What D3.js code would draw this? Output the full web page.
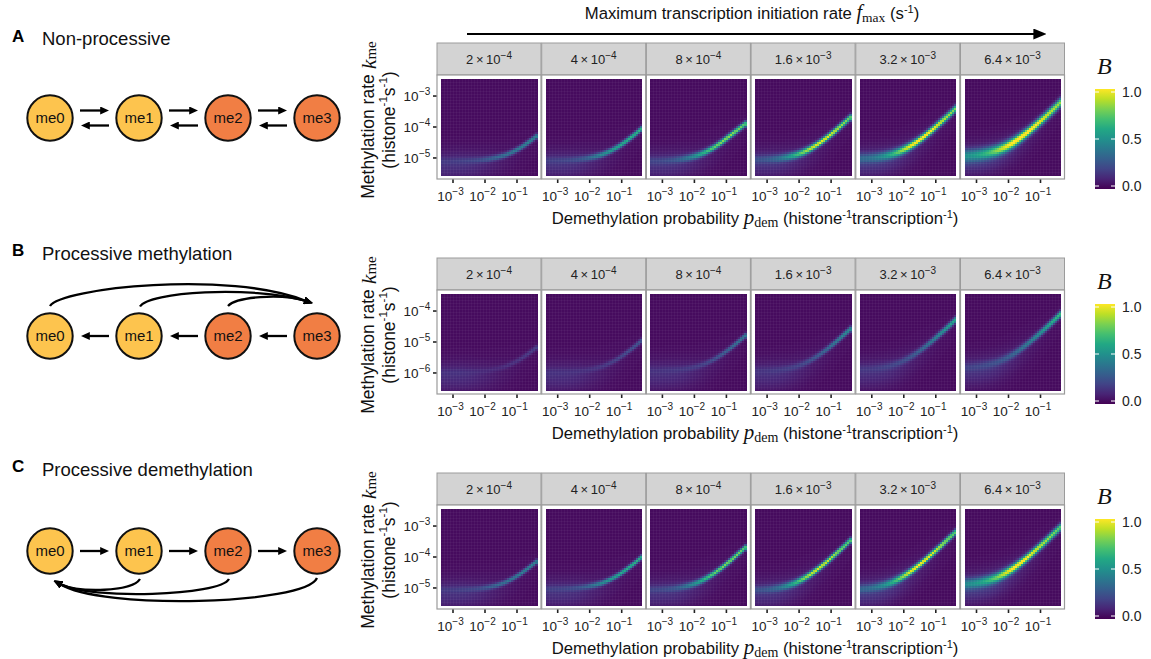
<!DOCTYPE html>
<html><head><meta charset="utf-8">
<script src="https://cdn.jsdelivr.net/npm/d3@7"></script>
<style>
body{margin:0;background:#fff}
svg{display:block;font-family:"Liberation Sans",Arial,Helvetica,sans-serif}
</style>
</head><body>
<svg id="c" width="1151" height="659"></svg>
<script>
// ---------------- DATA ----------------
const fmaxMant = ["2","4","8","1.6","3.2","6.4"];
const fmaxExp  = ["−4","−4","−4","−3","−3","−3"];
const pdemTicks = [-3,-2,-1];
const kmeTicksA = [-5,-4,-3];
const kmeTicksB = [-6,-5,-4];
const kmeTicksC = [-5,-4,-3];
const pdemDomain = [-3.375,-0.375];
const kmeDomainA = [-5.55,-2.45];
const kmeDomainB = [-6.55,-3.45];
const kmeDomainC = [-5.55,-2.45];
const pdemSamples = [-3.375,-3.125,-2.875,-2.625,-2.375,-2.125,-1.875,-1.625,-1.375,-1.125,-0.875,-0.625,-0.375];

// ridge centre (log10 k_me) per f_max panel
const ridgeA = [
 [-5.07,-5.07,-5.06,-5.06,-5.05,-5.03,-5.00,-4.95,-4.88,-4.77,-4.63,-4.45,-4.25],
 [-5.05,-5.04,-5.04,-5.03,-5.01,-4.98,-4.93,-4.86,-4.75,-4.61,-4.43,-4.23,-4.01],
 [-5.06,-5.06,-5.05,-5.03,-5.00,-4.95,-4.88,-4.77,-4.63,-4.45,-4.25,-4.05,-3.85],
 [-5.02,-5.01,-5.00,-4.98,-4.94,-4.88,-4.79,-4.66,-4.50,-4.31,-4.10,-3.87,-3.64],
 [-4.98,-4.97,-4.95,-4.91,-4.85,-4.76,-4.63,-4.47,-4.28,-4.07,-3.84,-3.61,-3.36],
 [-4.90,-4.88,-4.85,-4.80,-4.73,-4.62,-4.48,-4.30,-4.10,-3.88,-3.65,-3.41,-3.16]];
const peakA = [
 [0.05,0.05,0.06,0.08,0.10,0.14,0.20,0.26,0.30,0.34,0.37,0.40,0.40],
 [0.06,0.07,0.08,0.10,0.14,0.20,0.30,0.40,0.47,0.53,0.58,0.60,0.60],
 [0.08,0.09,0.11,0.15,0.22,0.33,0.47,0.60,0.70,0.77,0.80,0.76,0.70],
 [0.12,0.14,0.18,0.25,0.38,0.55,0.72,0.85,0.92,0.92,0.88,0.80,0.72],
 [0.20,0.22,0.28,0.38,0.52,0.70,0.87,0.96,0.98,0.96,0.90,0.82,0.75],
 [0.35,0.38,0.45,0.55,0.70,0.85,0.96,1.00,0.99,0.96,0.90,0.85,0.80]];
const widthA = [0.06,0.06,0.065,0.07,0.08,0.10];
const hazeA  = [0.10,0.10,0.10,0.10,0.12,0.14];

const ridgeB = [
 [-5.95,-5.95,-5.94,-5.94,-5.93,-5.91,-5.88,-5.83,-5.76,-5.65,-5.51,-5.33,-5.13],
 [-5.95,-5.94,-5.94,-5.93,-5.91,-5.88,-5.83,-5.76,-5.65,-5.51,-5.33,-5.13,-4.91],
 [-5.89,-5.89,-5.88,-5.87,-5.85,-5.81,-5.75,-5.66,-5.53,-5.37,-5.18,-4.97,-4.74],
 [-5.91,-5.90,-5.89,-5.87,-5.83,-5.77,-5.68,-5.55,-5.39,-5.20,-4.99,-4.76,-4.53],
 [-5.85,-5.84,-5.82,-5.78,-5.72,-5.63,-5.50,-5.34,-5.15,-4.94,-4.71,-4.48,-4.23],
 [-5.79,-5.77,-5.74,-5.69,-5.62,-5.51,-5.37,-5.19,-4.99,-4.77,-4.54,-4.30,-4.05]];
const peakB = [
 [0.03,0.03,0.03,0.03,0.03,0.03,0.04,0.05,0.07,0.09,0.11,0.13,0.15],
 [0.03,0.03,0.03,0.03,0.04,0.05,0.07,0.09,0.12,0.15,0.18,0.21,0.23],
 [0.03,0.03,0.04,0.05,0.06,0.08,0.10,0.14,0.18,0.23,0.28,0.33,0.37],
 [0.04,0.04,0.05,0.06,0.08,0.10,0.13,0.18,0.23,0.29,0.35,0.41,0.45],
 [0.05,0.05,0.06,0.08,0.10,0.13,0.17,0.22,0.28,0.35,0.42,0.50,0.57],
 [0.07,0.08,0.09,0.11,0.14,0.18,0.23,0.29,0.35,0.42,0.50,0.58,0.66]];
const widthB = [0.06,0.06,0.06,0.065,0.07,0.075];
const hazeB  = [0.09,0.09,0.09,0.09,0.09,0.10];

const ridgeC = [
 [-5.03,-5.02,-5.02,-5.01,-5.00,-4.98,-4.94,-4.88,-4.79,-4.66,-4.50,-4.31,-4.10],
 [-5.00,-4.99,-4.99,-4.98,-4.96,-4.93,-4.88,-4.81,-4.70,-4.56,-4.38,-4.18,-3.96],
 [-5.02,-5.01,-5.00,-4.98,-4.94,-4.88,-4.79,-4.66,-4.50,-4.31,-4.10,-3.87,-3.64],
 [-5.03,-5.02,-5.00,-4.96,-4.90,-4.81,-4.68,-4.52,-4.33,-4.12,-3.89,-3.66,-3.41],
 [-5.00,-4.98,-4.94,-4.88,-4.79,-4.66,-4.50,-4.31,-4.10,-3.87,-3.64,-3.39,-3.15],
 [-4.84,-4.82,-4.78,-4.72,-4.63,-4.50,-4.34,-4.15,-3.94,-3.71,-3.48,-3.23,-2.99]];
const peakC = [
 [0.05,0.05,0.06,0.08,0.10,0.14,0.20,0.26,0.30,0.34,0.37,0.40,0.40],
 [0.06,0.07,0.08,0.10,0.14,0.20,0.30,0.40,0.47,0.53,0.57,0.60,0.58],
 [0.08,0.09,0.11,0.15,0.22,0.33,0.47,0.60,0.70,0.75,0.78,0.75,0.70],
 [0.12,0.14,0.18,0.25,0.38,0.55,0.72,0.85,0.90,0.88,0.82,0.75,0.68],
 [0.18,0.20,0.26,0.36,0.50,0.68,0.85,0.94,0.95,0.91,0.85,0.78,0.70],
 [0.32,0.35,0.42,0.52,0.66,0.82,0.93,0.96,0.93,0.88,0.82,0.76,0.70]];
const widthC = [0.055,0.055,0.06,0.065,0.07,0.085];
const hazeC  = [0.10,0.10,0.10,0.10,0.12,0.14];

// how the ridge broadens / hazes at low p_dem (per sample column)
const spreadProfile = [1.4,1.35,1.3,1.25,1.2,1.15,1.1,1.05,1.0,1.0,1.0,1.0,1.0];
const hazeProfile   = [1.0,1.0,1.0,0.95,0.85,0.7,0.55,0.4,0.28,0.18,0.1,0.05,0.03];
const backgroundB = 0.03;

const legendTicks = [0,0.5,1];
const states = ["me0","me1","me2","me3"];
const rowLetters = ["A","B","C"];
const rowTitles = ["Non-processive","Processive methylation","Processive demethylation"];

// ---------------- DRAW ----------------
const svg = d3.select("#c");
svg.append("rect").attr("width",1151).attr("height",659).attr("fill","#fff");
const defs = svg.append("defs");
function marker(id,w,h){
  defs.append("marker").attr("id",id).attr("viewBox","0 0 10 10").attr("refX",2).attr("refY",5)
   .attr("markerWidth",w).attr("markerHeight",h).attr("markerUnits","userSpaceOnUse")
   .attr("orient","auto").attr("preserveAspectRatio","none")
   .append("path").attr("d","M0,0L10,5L0,10z").attr("fill","#000");
}
marker("ah",9,8);
marker("ahBig",13,11);

const SERIF = "'Liberation Serif','DejaVu Serif',serif";
function rich(sel, parts){
  parts.forEach(p=>{
    const ts = sel.append("tspan").text(p.t);
    if(p.f) ts.style("font-family",p.f);
    if(p.i) ts.style("font-style","italic");
    if(p.s) ts.attr("font-size",p.s);
    if(p.dy) ts.attr("dy",p.dy);
  });
}

const color = d3.scaleSequential(d3.interpolateViridis).domain([0,1]);
function interp(arr,t){
  const i = Math.min(arr.length-2, Math.max(0, Math.floor(t)));
  const f = t - i;
  return arr[i]*(1-f) + arr[i+1]*f;
}

const rows = [
  {top:43,  dom:kmeDomainA, ticks:kmeTicksA, ridge:ridgeA, peak:peakA, width:widthA, haze:hazeA},
  {top:258, dom:kmeDomainB, ticks:kmeTicksB, ridge:ridgeB, peak:peakB, width:widthB, haze:hazeB},
  {top:473, dom:kmeDomainC, ticks:kmeTicksC, ridge:ridgeC, peak:peakC, width:widthC, haze:hazeC}
];

// top f_max arrow + title
svg.append("line").attr("x1",467).attr("y1",34).attr("x2",1036).attr("y2",34)
  .attr("stroke","#000").attr("stroke-width",2).attr("marker-end","url(#ahBig)");
{
  const t = svg.append("text").attr("x",752).attr("y",19).attr("text-anchor","middle").attr("font-size",16.7).attr("fill","#111");
  rich(t,[{t:"Maximum transcription initiation rate "},{t:"f",f:SERIF,i:true,s:20},{t:"max",f:SERIF,s:13.5,dy:3},
          {t:" (s",dy:-3},{t:"-1",s:11,dy:-6},{t:")",dy:6}]);
}

const nC = 48, nR = 48;
const facetW = 104, facetStep = 104.7, facetX0 = 437, stripH = 32, panelH = 104, inset = 4;

rows.forEach((row,ri)=>{
  const g = svg.append("g");
  const pTop = row.top + stripH, pBot = pTop + panelH;
  fmaxMant.forEach((mant,pi)=>{
    const x0 = facetX0 + pi*facetStep;
    // strip
    g.append("rect").attr("x",x0).attr("y",row.top).attr("width",facetW).attr("height",stripH)
      .attr("fill","#D3D3D3").attr("stroke","#9b9b9b").attr("stroke-width",1);
    const st = g.append("text").attr("x",x0+facetW/2).attr("y",row.top+21).attr("text-anchor","middle")
      .attr("font-size",13).attr("fill","#222");
    rich(st,[{t:mant+"\u2009×\u200910"},{t:fmaxExp[pi],s:10,dy:-5.5}]);
    // panel background
    g.append("rect").attr("x",x0).attr("y",pTop).attr("width",facetW).attr("height",panelH).attr("fill","#fff");
    const xs = d3.scaleLinear().domain(pdemDomain).range([x0+inset, x0+facetW-inset]);
    const ys = d3.scaleLinear().domain(row.dom).range([pBot-inset, pTop+inset]);
    const dx = (pdemDomain[1]-pdemDomain[0])/nC, dy = (row.dom[1]-row.dom[0])/nR;
    const cells = [];
    for(let j=0;j<nC;j++){
      const xc = pdemDomain[0] + (j+0.5)*dx;
      const t = (xc - pdemSamples[0])/(pdemSamples[1]-pdemSamples[0]);
      const c = interp(row.ridge[pi],t), p = interp(row.peak[pi],t);
      const w = row.width[pi]*interp(spreadProfile,t);
      const hz = row.haze[pi]*interp(hazeProfile,t);
      for(let k=0;k<nR;k++){
        const yc = row.dom[0] + (k+0.5)*dy;
        const v = Math.min(1, backgroundB + p*Math.exp(-0.5*((yc-c)/w)**2)
                  + hz*Math.exp(-0.5*((yc-c+0.15)/0.32)**2));
        cells.push({x0:xc-dx/2, x1:xc+dx/2, y0:yc-dy/2, y1:yc+dy/2, v});
      }
    }
    g.append("g").attr("shape-rendering","crispEdges").selectAll("rect").data(cells).join("rect")
      .attr("x",d=>xs(d.x0)).attr("y",d=>ys(d.y1))
      .attr("width",d=>xs(d.x1)-xs(d.x0)+0.5).attr("height",d=>ys(d.y0)-ys(d.y1)+0.5)
      .attr("fill",d=>color(d.v));
    // faint raster seams
    const seams = g.append("g").attr("stroke","#fff").attr("stroke-opacity",0.04).attr("stroke-width",1).attr("shape-rendering","crispEdges");
    d3.range(1,32).forEach(q=>{
      const xx = Math.round(x0+inset + q*(facetW-2*inset)/32)+0.5, yy = Math.round(pTop+inset + q*(panelH-2*inset)/32)+0.5;
      seams.append("line").attr("x1",xx).attr("x2",xx).attr("y1",pTop+inset).attr("y2",pBot-inset);
      seams.append("line").attr("y1",yy).attr("y2",yy).attr("x1",x0+inset).attr("x2",x0+facetW-inset);
    });
    // panel border
    g.append("rect").attr("x",x0).attr("y",pTop).attr("width",facetW).attr("height",panelH)
      .attr("fill","none").attr("stroke","#9b9b9b").attr("stroke-width",1.2);
    // x ticks
    pdemTicks.forEach(tk=>{
      g.append("line").attr("x1",xs(tk)).attr("x2",xs(tk)).attr("y1",pBot+0.5).attr("y2",pBot+4)
        .attr("stroke","#222").attr("stroke-width",1.6);
      const tl = g.append("text").attr("x",xs(tk)-2.5).attr("y",pBot+21.5).attr("text-anchor","middle")
        .attr("font-size",13.5).attr("fill","#222");
      rich(tl,[{t:"10"},{t:"−"+(-tk),s:10,dy:-6}]);
    });
    // y ticks on the first facet
    if(pi===0){
      row.ticks.forEach(tk=>{
        g.append("line").attr("x1",x0-4).attr("x2",x0-0.5).attr("y1",ys(tk)).attr("y2",ys(tk))
          .attr("stroke","#222").attr("stroke-width",1.6);
        g.append("text").attr("x",x0-18.5).attr("y",ys(tk)+5).attr("text-anchor","end")
          .attr("font-size",13.5).attr("fill","#222").text("10");
        g.append("text").attr("x",x0-18).attr("y",ys(tk)-1).attr("text-anchor","start")
          .attr("font-size",10).attr("fill","#222").text("−"+(-tk));
      });
    }
  });
  // axis titles
  const xt = g.append("text").attr("x",755).attr("y",pBot+45).attr("text-anchor","middle").attr("font-size",16.7).attr("fill","#111");
  rich(xt,[{t:"Demethylation probability "},{t:"p",f:SERIF,i:true,s:21},{t:"dem",f:SERIF,s:14,dy:3},
           {t:" (histone",dy:-3},{t:"-1",s:11,dy:-6},{t:"transcription",dy:6},{t:"-1",s:11,dy:-6},{t:")",dy:6}]);
  const cy = row.top + 77;
  const yt1 = g.append("text").attr("transform",`translate(368,${cy}) rotate(-90)`).attr("text-anchor","middle")
    .attr("dominant-baseline","central").attr("font-size",17.5).attr("fill","#111");
  rich(yt1,[{t:"Methylation rate "},{t:"k",f:SERIF,i:true,s:22},{t:"me",f:SERIF,s:15,dy:3}]);
  const yt2 = g.append("text").attr("transform",`translate(388.5,${cy}) rotate(-90)`).attr("text-anchor","middle")
    .attr("dominant-baseline","central").attr("font-size",17.5).attr("fill","#111");
  rich(yt2,[{t:"(histone"},{t:"-1",s:11.5,dy:-6},{t:"s",dy:6},{t:"-1",s:11.5,dy:-6},{t:")",dy:6}]);

  // legend
  const lg = g.append("g");
  lg.append("text").attr("x",1097).attr("y",row.top+31).style("font-family",SERIF).style("font-style","italic")
    .attr("font-size",24).attr("fill","#111").text("B");
  const gid = "vir"+ri;
  const grad = defs.append("linearGradient").attr("id",gid).attr("x1",0).attr("x2",0).attr("y1",1).attr("y2",0);
  d3.range(0,1.0001,0.1).forEach(s=>grad.append("stop").attr("offset",s).attr("stop-color",color(s)));
  const ls = d3.scaleLinear().domain([0,1]).range([row.top+143, row.top+49]);
  lg.append("rect").attr("x",1095).attr("y",ls(1)-3).attr("width",20).attr("height",ls(0)-ls(1)+6).attr("fill",`url(#${gid})`);
  legendTicks.forEach(v=>{
    lg.append("line").attr("x1",1095).attr("x2",1099).attr("y1",ls(v)).attr("y2",ls(v)).attr("stroke","#fff").attr("stroke-width",1);
    lg.append("line").attr("x1",1111).attr("x2",1115).attr("y1",ls(v)).attr("y2",ls(v)).attr("stroke","#fff").attr("stroke-width",1);
    lg.append("text").attr("x",1122).attr("y",ls(v)+5).attr("font-size",14).attr("fill","#222").text(d3.format(".1f")(v));
  });
});

// ---------------- state diagrams ----------------
const cxs = [50,139,228,317];
const cys = [118,336,551];
const fills = ["#FDC44E","#FDC44E","#F17E44","#F17E44"];
const letterBase = [42,256,472], titleBase = [45,260,476];
rowLetters.forEach((L,ri)=>{
  svg.append("text").attr("x",12).attr("y",letterBase[ri]).attr("font-size",17).attr("font-weight","bold").attr("fill","#000").text(L);
  svg.append("text").attr("x",42).attr("y",titleBase[ri]).attr("font-size",18.5).attr("fill","#111").text(rowTitles[ri]);
});
function arrow(x1,y1,x2,y2){
  const dx=x2-x1, dy=y2-y1, len=Math.hypot(dx,dy), sh=7;
  svg.append("line").attr("x1",x1).attr("y1",y1).attr("x2",x2-dx/len*sh).attr("y2",y2-dy/len*sh)
    .attr("stroke","#000").attr("stroke-width",2.3).attr("marker-end","url(#ah)");
}
function curve(d){
  svg.append("path").attr("d",d).attr("fill","none").attr("stroke","#000").attr("stroke-width",2.3).attr("marker-end","url(#ah)");
}
// A: reversible steps
for(let k=0;k<3;k++){
  arrow(cxs[k]+30, cys[0]-7.5, cxs[k+1]-30, cys[0]-7.5);
  arrow(cxs[k+1]-30, cys[0]+7.5, cxs[k]+31, cys[0]+7.5);
}
// B: stepwise demethylation + processive methylation arcs
for(let k=0;k<3;k++) arrow(cxs[k+1]-30, cys[1], cxs[k]+31, cys[1]);
curve("M50,306 C60,288 230,270 306,301");
curve("M140,306.5 C148,292 250,285 306,301");
curve("M228,306 C236,297 280,293 306,301");
// C: stepwise methylation + processive demethylation arcs
for(let k=0;k<3;k++) arrow(cxs[k]+30, cys[2], cxs[k+1]-30, cys[2]);
curve("M140,579 C132,592 80,593 60,584");
curve("M229,579 C220,596 90,600 60,584");
curve("M317,578 C305,605 100,610 60,584");
// circles
cys.forEach(cy=>{
  states.forEach((s,k)=>{
    svg.append("circle").attr("cx",cxs[k]).attr("cy",cy).attr("r",22.7).attr("fill",fills[k]).attr("stroke","#111").attr("stroke-width",2);
    svg.append("text").attr("x",cxs[k]).attr("y",cy+5).attr("text-anchor","middle").attr("font-size",15).attr("fill","#111").text(s);
  });
});
</script>
</body></html>
